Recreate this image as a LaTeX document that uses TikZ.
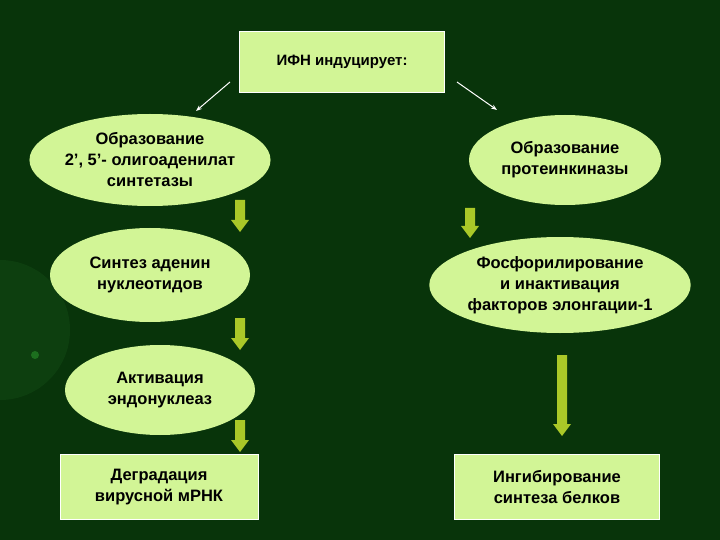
\documentclass[tikz,border=0pt]{standalone}
\usepackage{fontspec}
\setmainfont{Liberation Sans}
\usetikzlibrary{shapes.geometric,arrows.meta}
\definecolor{bg}{RGB}{8,52,10}
\definecolor{lg}{RGB}{210,245,150}
\definecolor{ol}{RGB}{170,200,40}
\newcommand{\blkarrow}[3]{% x, ytop, ybottom
  \fill[ol] (#1-5,#2) -- (#1+5,#2) -- (#1+5,#3-12) -- (#1+9,#3-12) -- (#1,#3) -- (#1-9,#3-12) -- (#1-5,#3-12) -- cycle;}
\begin{document}
\begin{tikzpicture}[x=1pt,y=-1pt,
  txt/.style={font=\bfseries\fontsize{16.5}{21}\selectfont,align=center,text=black},
  ell/.style={ellipse,fill=lg,inner sep=0,txt},
  rbox/.style={rectangle,fill=lg,draw=white,line width=0.6pt,inner sep=0,txt},
  wl/.style={white,line width=1pt,-{Stealth[length=6pt]}}]
\useasboundingbox (0,0) rectangle (720,540);
\fill[bg] (0,0) rectangle (720,540);
\begin{scope}
\clip (0,0) rectangle (720,540);
\fill[green!60!white,opacity=0.06] (0,330) circle (70);
\fill[green!70!white,opacity=0.25] (35,355) circle (4);
\end{scope}
\node[rbox,minimum width=205,minimum height=61,font=\bfseries\fontsize{15}{18}\selectfont] (top) at (342,62) {ИФН индуцирует:};
\coordinate (la) at (196,111);
\coordinate (ra) at (497,110);
\draw[wl] (230,82) -- (la);
\draw[wl] (457,82) -- (ra);
\node[ell,minimum width=206,minimum height=92] (e1) at (150,160) {Образование\\2’, 5’- олигоаденилат\\синтетазы};
\node[ell,minimum width=192,minimum height=90] (r1) at (565,160) {Образование\\протеинкиназы};
\node[ell,minimum width=200,minimum height=94] (e2) at (150,275) {Синтез аденин\\нуклеотидов};
\node[ell,minimum width=212,minimum height=96] (r2) at (560,285) {Фосфорилирование\\и инактивация\\факторов элонгации-1};
\node[ell,minimum width=190,minimum height=90] (e3) at (160,390) {Активация\\эндонуклеаз};
\node[rbox,minimum width=198,minimum height=65] (e4) at (159,487) {Деградация\\вирусной мРНК};
\node[rbox,minimum width=205,minimum height=65] (r4) at (557,487) {Ингибирование\\синтеза белков};
\blkarrow{240}{200}{232}
\blkarrow{240}{318}{350}
\blkarrow{240}{420}{452}
\blkarrow{470}{208}{238}
\blkarrow{562}{355}{436}
\end{tikzpicture}
\end{document}
